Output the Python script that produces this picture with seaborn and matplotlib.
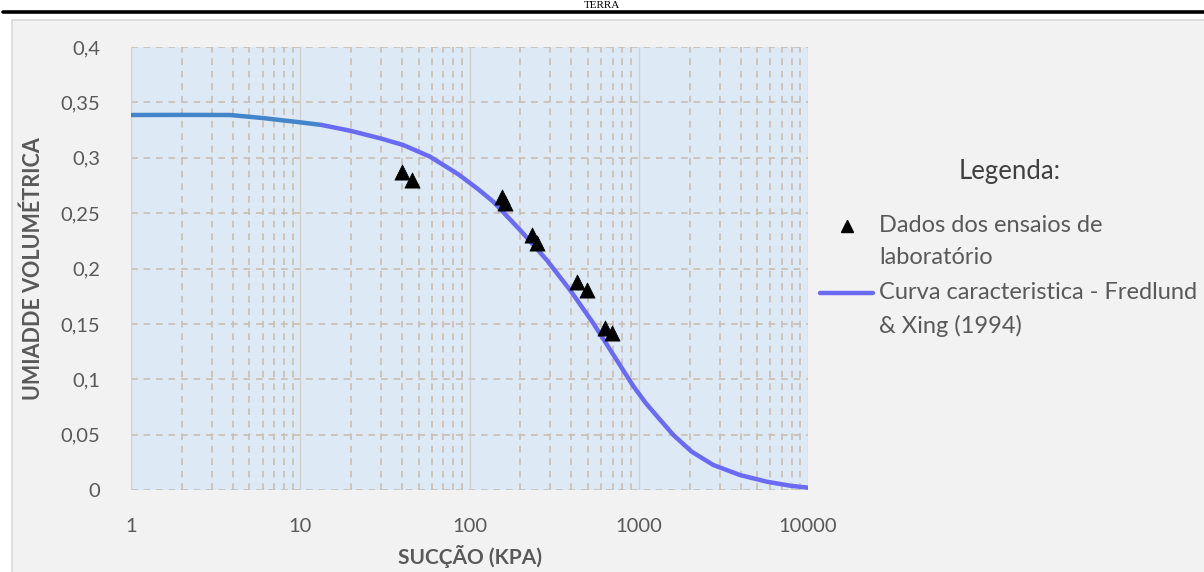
import matplotlib
matplotlib.use("Agg")
import matplotlib.pyplot as plt
import seaborn as sns
import pandas as pd
from matplotlib.lines import Line2D
from matplotlib.patches import Rectangle
from matplotlib.ticker import FixedLocator, NullFormatter

# ensaios de laboratorio (succao kPa, umidade volumetrica)
suc_lab = [40, 46, 155, 162, 233, 249, 430, 492, 632, 692]
um_lab = [0.287, 0.280, 0.265, 0.259, 0.230, 0.223, 0.188, 0.181, 0.146, 0.1415]

# curva caracteristica
suc_ini = [1, 2, 3.85, 6.05, 9.97, 13.4]
um_ini = [0.3386, 0.3387, 0.3386, 0.3358, 0.3320, 0.3296]
suc_curva = [13.4, 19.7, 29.6, 40.6, 58.4, 86, 112.7, 138.2, 198.8, 285.8, 392.6,
             538.9, 707.3, 774.8, 864, 928.7, 1100, 1276, 1600, 2055, 2757, 3966,
             5702, 7828, 10000]
um_curva = [0.3296, 0.3244, 0.3176, 0.3115, 0.3010, 0.2850, 0.2715, 0.2603, 0.2348,
            0.2077, 0.1806, 0.1505, 0.1222, 0.1127, 0.1013, 0.0938, 0.0785, 0.0670,
            0.0497, 0.0346, 0.0226, 0.0135, 0.0075, 0.0039, 0.0021]

y_ticks = [0, 0.05, 0.1, 0.15, 0.2, 0.25, 0.3, 0.35, 0.4]
y_labels = ["0", "0,05", "0,1", "0,15", "0,2", "0,25", "0,3", "0,35", "0,4"]
x_ticks = [1, 10, 100, 1000, 10000]
x_labels = ["1", "10", "100", "1000", "10000"]

sns.set_theme(style="white")
plt.rcParams['font.family'] = ['Lato', 'DejaVu Sans']

fig = plt.figure(figsize=(12.04, 5.72), dpi=100)
fig.patch.set_facecolor("white")

# moldura do grafico (screenshot)
fig.add_artist(Rectangle((12 / 1204, -0.01), 1.0, (572 - 20) / 572 + 0.01,
                         transform=fig.transFigure, facecolor="#f2f2f2",
                         edgecolor="#d9d9d9", linewidth=1.2, zorder=-5))
fig.add_artist(Line2D([3 / 1204, 1.0], [1 - 11.5 / 572] * 2, transform=fig.transFigure,
                      color="black", linewidth=2.6, zorder=-4))
fig.text(0.5, 1 - 0.5 / 572, "TERRA", ha="center", va="top", fontsize=8,
         family="Liberation Serif", color="black")

ax = fig.add_axes([131 / 1204, 82 / 572, 677 / 1204, 443 / 572])
ax.set_facecolor("#dde9f5")

grid_c = "#c8beb4"
# linhas de grade
for yv in y_ticks:
    ax.axhline(yv, color=grid_c, linestyle=(0, (4, 3.5)), linewidth=1.2, zorder=0)
minor = [m * 10 ** d for d in range(4) for m in range(2, 10)]
for xv in minor:
    ax.axvline(xv, color=grid_c, linestyle=(0, (4, 3.5)), linewidth=1.2, zorder=0)
for xv in x_ticks:
    ax.axvline(xv, color="#d3cfcb", linewidth=1.0, zorder=0)

df_ini = pd.DataFrame({"s": suc_ini, "u": um_ini})
df_curva = pd.DataFrame({"s": suc_curva, "u": um_curva})
df_lab = pd.DataFrame({"s": suc_lab, "u": um_lab})

sns.lineplot(data=df_ini, x="s", y="u", ax=ax, color="#4285c9", linewidth=3.2,
             sort=False, estimator=None, zorder=3)
sns.lineplot(data=df_curva, x="s", y="u", ax=ax, color="#6a6af4", linewidth=3.2,
             sort=False, estimator=None, zorder=3)
sns.scatterplot(data=df_lab, x="s", y="u", ax=ax, marker="^", color="black", s=120,
                edgecolor="black", linewidth=0.5, zorder=4)

ax.set_xscale("log")
ax.set_xlim(1, 10000)
ax.set_ylim(0, 0.4)
ax.xaxis.set_major_locator(FixedLocator(x_ticks))
ax.xaxis.set_minor_formatter(NullFormatter())
ax.set_xticklabels(x_labels)
ax.set_yticks(y_ticks)
ax.set_yticklabels(y_labels)
ax.tick_params(axis="both", which="both", length=0, labelsize=14.5, labelcolor="#595959")
ax.tick_params(axis="x", pad=20)
ax.tick_params(axis="y", pad=22)
for sp in ax.spines.values():
    sp.set_visible(False)

ax.set_xlabel("SUCÇÃO (KPA)", fontsize=15, fontweight="bold", color="#595959",
              labelpad=7)
ax.set_ylabel("UMIADDE VOLUMÉTRICA", fontsize=15.5, fontweight="bold", color="#595959",
              labelpad=12)

# legenda
tc = "#595959"
fig.text(1010 / 1204, 1 - 172 / 572, "Legenda:", ha="center", va="center",
         fontsize=18.5, color="#404040")
fig.add_artist(Line2D([847 / 1204], [1 - 226 / 572], transform=fig.transFigure,
                      marker="^", color="black", markersize=9, linestyle="none"))
fig.text(879 / 1204, 1 - 226 / 572, "Dados dos ensaios de", ha="left", va="center",
         fontsize=17, color=tc)
fig.text(879 / 1204, 1 - 258 / 572, "laboratório", ha="left", va="center",
         fontsize=17, color=tc)
fig.add_artist(Line2D([820 / 1204, 873 / 1204], [1 - 293 / 572] * 2,
                      transform=fig.transFigure, color="#6a6af4", linewidth=3.2))
fig.text(879 / 1204, 1 - 293 / 572, "Curva caracteristica - Fredlund", ha="left",
         va="center", fontsize=17, color=tc)
fig.text(879 / 1204, 1 - 326 / 572, "& Xing (1994)", ha="left", va="center",
         fontsize=17, color=tc)

fig.savefig("out.png", dpi=100)
